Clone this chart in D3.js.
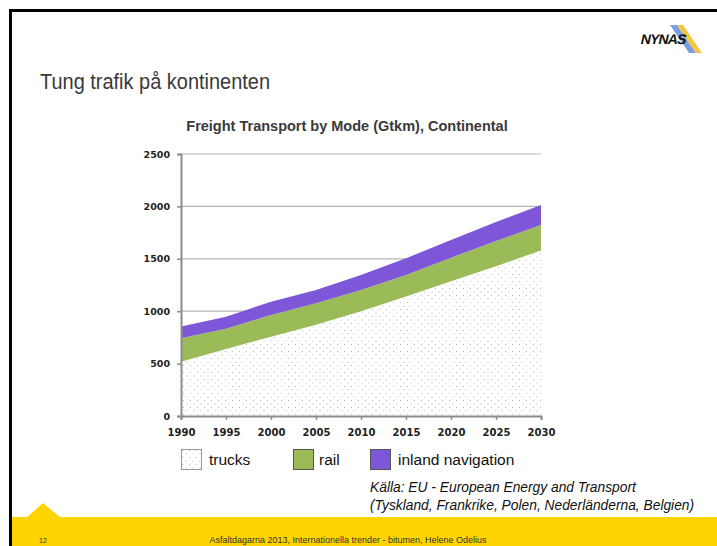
<!DOCTYPE html>
<html>
<head>
<meta charset="utf-8">
<script src="https://cdn.jsdelivr.net/npm/d3@7"></script>
<style>
  body { margin: 0; background: #fff; }
  svg { display: block; }
</style>
</head>
<body>
<div id="chart"></div>
<script>
// data
const years = [1990, 1995, 2000, 2005, 2010, 2015, 2020, 2025, 2030];
const trucks = [518, 640, 757, 870, 1000, 1140, 1285, 1430, 1580];
const rail = [223, 192, 207, 205, 202, 205, 225, 240, 242];
const inland = [114, 115, 127, 127, 143, 160, 170, 180, 191];
const yTicks = [0, 500, 1000, 1500, 2000, 2500];
const seriesNames = ["trucks", "rail", "inland navigation"];

function drawChart() {

    const width = 717, height = 546;

    const svg = d3.select("#chart")
        .append("svg")
        .attr("width", width)
        .attr("height", height);

    // dotted fill for trucks
    const defs = svg.append("defs");
    const pat = defs.append("pattern")
        .attr("id", "dots")
        .attr("patternUnits", "userSpaceOnUse")
        .attr("width", 7)
        .attr("height", 7);
    pat.append("rect").attr("width", 7).attr("height", 7).attr("fill", "#fff");
    pat.append("rect").attr("x", 1).attr("y", 1).attr("width", 1).attr("height", 1).attr("fill", "#b8b8b8");
    pat.append("rect").attr("x", 4.5).attr("y", 4.5).attr("width", 1).attr("height", 1).attr("fill", "#b8b8b8");

    // slide frame
    svg.append("rect")
        .attr("x", 10.5).attr("y", 10.5)
        .attr("width", width).attr("height", height)
        .attr("fill", "none")
        .attr("stroke", "#000")
        .attr("stroke-width", 3);

    // footer band
    svg.append("path")
        .attr("d", `M12,517 L27,517 L43,503 L60,517 L${width},517 L${width},${height} L12,${height} Z`)
        .attr("fill", "#ffd400");

    svg.append("text")
        .attr("x", 43).attr("y", 543)
        .attr("text-anchor", "middle")
        .style("font", "7px 'Liberation Sans', Arial, sans-serif")
        .style("fill", "#333")
        .text("12");

    svg.append("text")
        .attr("x", 348).attr("y", 543)
        .attr("text-anchor", "middle")
        .style("font", "9px 'Liberation Sans', Arial, sans-serif")
        .style("fill", "#333")
        .text("Asfaltdagarna 2013, Internationella trender - bitumen, Helene Odelius");

    // logo
    const logo = svg.append("g").attr("transform", "translate(640,25)");
    logo.append("path").attr("d", "M30,0 L37,0 L56,28 L49,28 Z").attr("fill", "#5b86d6").attr("opacity", 0.8);
    logo.append("path").attr("d", "M37,0 L43,0 L62,28 L56,28 Z").attr("fill", "#f2c12e").attr("opacity", 0.9);
    logo.append("text")
        .attr("x", 1).attr("y", 19)
        .attr("transform", "skewX(-12) translate(3,0)")
        .style("font", "900 14px 'Liberation Sans', Arial, sans-serif")
        .style("fill", "#111")
        .style("letter-spacing", "-0.8px")
        .text("NYNAS");

    // slide title
    svg.append("text")
        .attr("x", 40).attr("y", 89)
        .attr("textLength", 230)
        .attr("lengthAdjust", "spacingAndGlyphs")
        .style("font", "22px 'Liberation Sans', Arial, sans-serif")
        .style("fill", "#3a3a3a")
        .text("Tung trafik på kontinenten");

    // chart title
    svg.append("text")
        .attr("x", 347).attr("y", 131)
        .attr("text-anchor", "middle")
        .style("font", "bold 14.5px 'Liberation Sans', Arial, sans-serif")
        .style("fill", "#3a3a3a")
        .text("Freight Transport by Mode (Gtkm), Continental");

    // scales
    const x = d3.scaleLinear().domain([1990, 2030]).range([181, 541]);
    const y = d3.scaleLinear().domain([0, 2500]).range([416, 154]);

    // gridlines
    svg.append("g")
        .selectAll("line")
        .data(yTicks.slice(1))
        .join("line")
        .attr("x1", x(1990)).attr("x2", x(2030))
        .attr("y1", d => y(d)).attr("y2", d => y(d))
        .attr("stroke", "#b5b5b5")
        .attr("stroke-width", 1.2);

    // stacked areas
    const table = years.map((yr, i) => ({ year: yr, trucks: trucks[i], rail: rail[i], inland: inland[i] }));
    const stack = d3.stack().keys(["trucks", "rail", "inland"]);
    const layers = stack(table);
    const fills = ["url(#dots)", "#9bbb59", "#7e57d9"];

    const area = d3.area()
        .x(d => x(d.data.year))
        .y0(d => y(d[0]))
        .y1(d => y(d[1]));

    svg.append("g")
        .selectAll("path")
        .data(layers)
        .join("path")
        .attr("d", area)
        .attr("fill", (d, i) => fills[i]);

    // axes
    const xAxis = d3.axisBottom(x).tickValues(years).tickFormat(d3.format("d")).tickSize(4).tickPadding(9);
    const gx = svg.append("g").attr("transform", "translate(0,416)").call(xAxis);
    gx.select(".domain").attr("stroke", "#8c8c8c").attr("stroke-width", 2);
    gx.selectAll(".tick line").attr("stroke", "#8c8c8c").attr("stroke-width", 1.5);
    gx.selectAll("text")
        .style("font", "bold 10px 'DejaVu Sans', Tahoma, sans-serif")
        .style("fill", "#222");

    const yAxis = d3.axisLeft(y).tickValues(yTicks).tickFormat(d3.format("d")).tickSize(4).tickPadding(7);
    const gy = svg.append("g").attr("transform", "translate(181,0)").call(yAxis);
    gy.select(".domain").attr("stroke", "#8c8c8c").attr("stroke-width", 2);
    gy.selectAll(".tick line").attr("stroke", "#8c8c8c").attr("stroke-width", 1.5);
    gy.selectAll("text")
        .style("font", "bold 9.5px 'DejaVu Sans', Tahoma, sans-serif")
        .style("fill", "#222");

    // legend
    const legendX = [181, 293, 370];
    const legend = svg.append("g")
        .selectAll("g")
        .data(seriesNames)
        .join("g")
        .attr("transform", (d, i) => `translate(${legendX[i]},449)`);

    legend.append("rect")
        .attr("x", 0.5).attr("y", 0.5)
        .attr("width", 20).attr("height", 20)
        .attr("fill", (d, i) => fills[i])
        .attr("stroke", (d, i) => i === 0 ? "#999" : "#555")
        .attr("stroke-width", 1);

    legend.append("text")
        .attr("x", (d, i) => i === 1 ? 26 : 28)
        .attr("y", 16)
        .style("font", "15.5px 'Liberation Sans', Arial, sans-serif")
        .style("fill", "#111")
        .text(d => d);

    // source
    const src = svg.append("text")
        .style("font", "italic 13.8px 'Liberation Sans', Arial, sans-serif")
        .style("fill", "#111");
    src.append("tspan").attr("x", 370).attr("y", 492).text("Källa: EU - European Energy and Transport");
    src.append("tspan").attr("x", 370).attr("y", 510).text("(Tyskland, Frankrike, Polen, Nederländerna, Belgien)");
}

drawChart();
</script>
</body>
</html>
